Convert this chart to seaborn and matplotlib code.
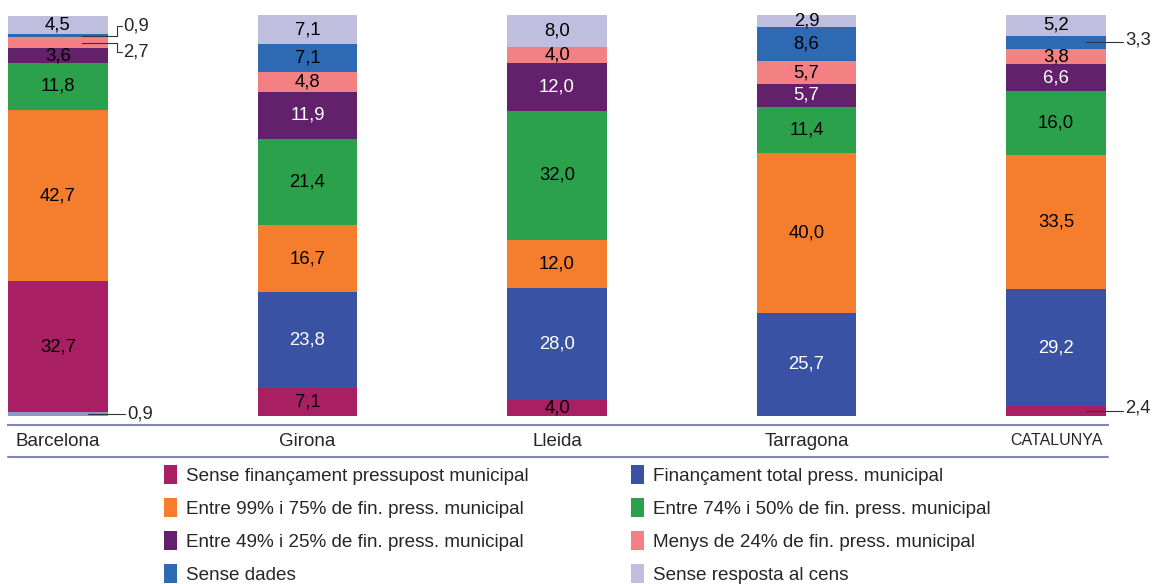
import matplotlib
matplotlib.use("Agg")
import matplotlib.pyplot as plt
import seaborn as sns
import numpy as np
from matplotlib.lines import Line2D
from matplotlib.patches import Patch

categories = ["Barcelona", "Girona", "Lleida", "Tarragona", "CATALUNYA"]
series_names = [
    "Sense finançament pressupost municipal",
    "Finançament total press. municipal",
    "Entre 99% i 75% de fin. press. municipal",
    "Entre 74% i 50% de fin. press. municipal",
    "Entre 49% i 25% de fin. press. municipal",
    "Menys de 24% de fin. press. municipal",
    "Sense dades",
    "Sense resposta al cens",
]
sense_financament = [32.7, 7.1, 4.0, 0.0, 2.4]
financament_total = [0.9, 23.8, 28.0, 25.7, 29.2]
entre_99_75 = [42.7, 16.7, 12.0, 40.0, 33.5]
entre_74_50 = [11.8, 21.4, 32.0, 11.4, 16.0]
entre_49_25 = [3.6, 11.9, 12.0, 5.7, 6.6]
menys_24 = [2.7, 4.8, 4.0, 5.7, 3.8]
sense_dades = [0.9, 7.1, 0.0, 8.6, 3.3]
sense_resposta = [4.5, 7.1, 8.0, 2.9, 5.2]

values = [sense_financament, financament_total, entre_99_75, entre_74_50,
          entre_49_25, menys_24, sense_dades, sense_resposta]
colors = ["#a91f63", "#3a52a3", "#f47e2d", "#2ba14b", "#63216b",
          "#f38184", "#2e69b3", "#c0bedf"]
# stacking order per bar (Barcelona draws "Finançament total" under the rest)
orders = [[1, 0, 2, 3, 4, 5, 6, 7]] + [[0, 1, 2, 3, 4, 5, 6, 7]] * 4
label_white = {1, 4}
label_black_override = {(0, 4)}
# values drawn with a callout instead of inside: (bar, series, text dy, elbow)
callouts = [(0, 6, 2.4, True), (0, 5, -2.2, True), (0, 1, 0.0, False),
            (4, 6, 0.5, False), (4, 0, 0.9, False)]

sns.set_theme(style="white")
plt.rcParams["font.family"] = ["Liberation Sans", "DejaVu Sans"]

W, H = 1168, 584
FS = 13.3
fig = plt.figure(figsize=(W / 100, H / 100), dpi=100)
ax = fig.add_axes([8 / W, 1 - 425 / H, 1100 / W, 415 / H])

x = np.arange(len(categories))
width = 0.4
callout_set = {(b, s) for b, s, _, _ in callouts}
centers = {}
for b in range(len(categories)):
    bottom = 0.0
    for s in orders[b]:
        v = values[s][b]
        if v > 0:
            c = colors[s] if not (b == 0 and s == 1) else "#8d95c9"
            ax.bar(x[b], v, width=width, bottom=bottom, color=c,
                   edgecolor="none", linewidth=0)
        centers[(b, s)] = bottom + v / 2
        if v > 0 and (b, s) not in callout_set:
            col = "white" if (s in label_white and (b, s) not in label_black_override) else "black"
            ax.text(x[b], bottom + v / 2, f"{v:.1f}".replace(".", ","),
                    ha="center", va="center", fontsize=FS, color=col)
        bottom += v

for b, s, dy, elbow in callouts:
    yc = centers[(b, s)]
    v = values[s][b]
    lbl = f"{v:.1f}".replace(".", ",")
    if elbow:
        x0, x1 = x[b] + 0.096, x[b] + 0.236
        ax.plot([x0, x1, x1, x1 + 0.02], [yc, yc, yc + dy, yc + dy],
                color="#333333", lw=0.8, clip_on=False)
        ax.text(x1 + 0.026, yc + dy, lbl, ha="left", va="center", fontsize=FS,
                clip_on=False)
    else:
        x0, x1 = x[b] + 0.12, x[b] + 0.27
        ax.plot([x0, x1], [yc, yc], color="#333333", lw=0.8, clip_on=False)
        ax.text(x1 + 0.008, yc + dy, lbl, ha="left", va="center", fontsize=FS,
                clip_on=False)

ax.set_xlim(-0.2, 4.208)
ax.set_ylim(-2.24, 101.25)
ax.set_yticks([])
ax.set_xticks(x)
ax.set_xticklabels(categories)
for lab in ax.get_xticklabels():
    lab.set_fontsize(13.5 if lab.get_text() != "CATALUNYA" else 11.5)
ax.tick_params(axis="x", length=0, pad=6)
for sp in ["top", "left", "right"]:
    ax.spines[sp].set_visible(False)
ax.spines["bottom"].set_color("#7f86b8")
ax.spines["bottom"].set_linewidth(1.5)
ax.set_facecolor("none")

fig.add_artist(Line2D([8 / W, 1108 / W], [1 - 457 / H, 1 - 457 / H],
                      color="#7f86b8", lw=1.5))

handles = [Patch(facecolor=c, edgecolor="none") for c in colors]
left_idx = [0, 2, 4, 6]
right_idx = [1, 3, 5, 7]
common = dict(loc="upper left", frameon=False, fontsize=13.6, borderpad=0,
              handlelength=0.7, handleheight=1.15, handletextpad=0.45,
              labelspacing=0.7, borderaxespad=0)
leg1 = fig.legend([handles[i] for i in left_idx], [series_names[i] for i in left_idx],
                  bbox_to_anchor=(164 / W, 1 - 465 / H), **common)
leg2 = fig.legend([handles[i] for i in right_idx], [series_names[i] for i in right_idx],
                  bbox_to_anchor=(631 / W, 1 - 465 / H), **common)

fig.savefig("out.png", dpi=100, facecolor="white")
